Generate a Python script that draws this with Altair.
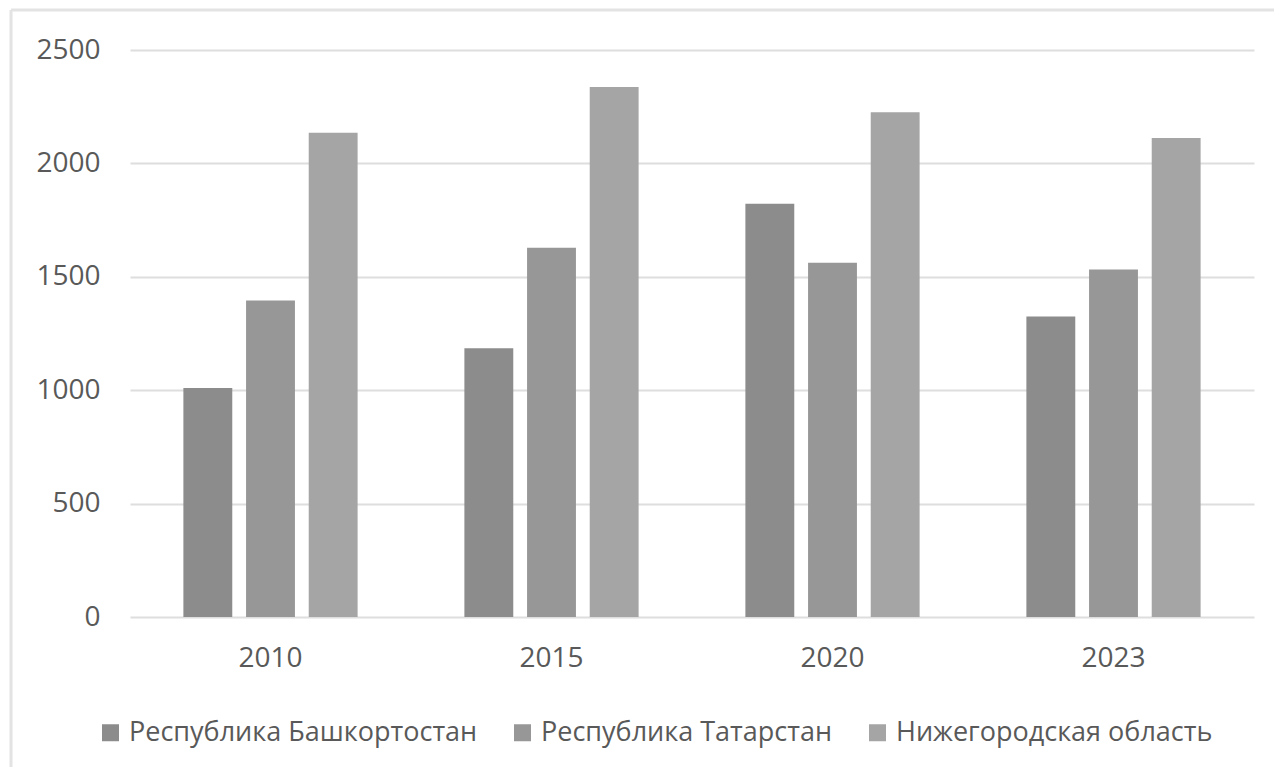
import altair as alt
import pandas as pd

years = ["2010", "2015", "2020", "2023"]
regions = ["Республика Башкортостан", "Республика Татарстан", "Нижегородская область"]
bashkortostan = [1010, 1185, 1822, 1325]
tatarstan = [1395, 1628, 1562, 1532]
nizhny = [2135, 2337, 2225, 2112]
colors = ["#8c8c8c", "#979797", "#a5a5a5"]

rows = []
for i, y in enumerate(years):
    for r, vals in zip(regions, [bashkortostan, tatarstan, nizhny]):
        rows.append({"year": y, "region": r, "value": vals[i]})
df = pd.DataFrame(rows)

FONT = "Open Sans"
FS = 28

bars = alt.Chart(df).mark_bar().encode(
    x=alt.X("year:N", sort=years,
            scale=alt.Scale(paddingInner=0.38, paddingOuter=0.19),
            axis=alt.Axis(title=None, labelAngle=0, labelFontSize=FS, labelColor="#595959",
                          labelFont=FONT, labelPadding=27, ticks=False, domain=False)),
    xOffset=alt.XOffset("region:N", sort=regions,
                        scale=alt.Scale(paddingInner=0.22, paddingOuter=0)),
    y=alt.Y("value:Q", scale=alt.Scale(domain=[0, 2500]),
            axis=alt.Axis(title=None, values=[0, 500, 1000, 1500, 2000, 2500], format="d",
                          labelFontSize=FS, labelColor="#595959", labelFont=FONT,
                          labelPadding=30, ticks=False, domain=False,
                          gridColor="#dedede", gridWidth=2)),
    color=alt.Color("region:N", sort=regions,
                    scale=alt.Scale(domain=regions, range=colors),
                    legend=alt.Legend(title=None, orient="none", direction="horizontal",
                                      legendX=-33, legendY=669,
                                      symbolType="square", symbolSize=289,
                                      symbolStrokeWidth=0, labelFontSize=27,
                                      labelFont=FONT, labelColor="#595959", labelLimit=600,
                                      columnPadding=31, symbolOffset=0, labelOffset=5)),
)

frame_left = alt.Chart(pd.DataFrame({"a": [0]})).mark_rule(color="#e3e3e3", strokeWidth=3).encode(
    x=alt.value(-119), y=alt.value(-40), y2=alt.value(760))
frame_top = alt.Chart(pd.DataFrame({"a": [0]})).mark_rule(color="#e3e3e3", strokeWidth=3).encode(
    x=alt.value(-119), x2=alt.value(1160), y=alt.value(-40))

chart = alt.layer(frame_left, frame_top, bars).properties(
    width=1124, height=567,
    autosize=alt.AutoSizeParams(type="none"),
    padding={"left": 122, "top": 42, "right": 20, "bottom": 150},
    background="white",
).configure_view(stroke=None)

chart.save("out.html", embed_options={"renderer": "svg", "actions": False})
